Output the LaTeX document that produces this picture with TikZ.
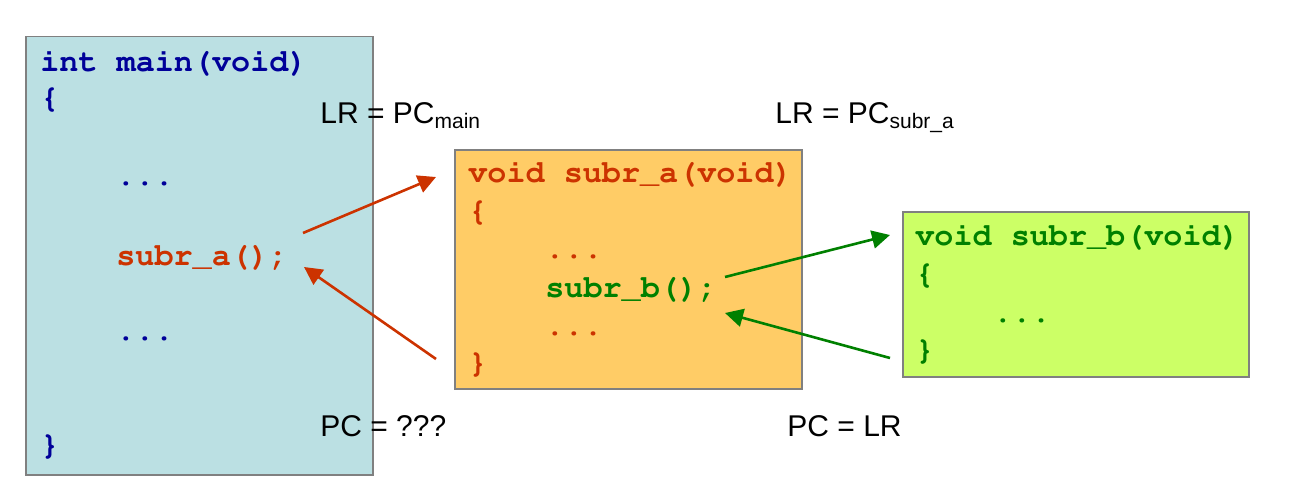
\documentclass[tikz,border=0pt]{standalone}
\usepackage[T1,TU]{fontenc}
\usepackage{fontspec}
\setmainfont{Liberation Sans}
\setmonofont{Liberation Mono}
\usetikzlibrary{arrows.meta, positioning}
\definecolor{mainbg}{HTML}{BBE0E3}
\definecolor{subabg}{HTML}{FFCC66}
\definecolor{subbbg}{HTML}{CCFF66}
\definecolor{mainfg}{HTML}{000099}
\definecolor{subafg}{HTML}{CC3300}
\definecolor{subbfg}{HTML}{008000}
\newcommand{\codefont}{\fontencoding{T1}\fontfamily{pcr}\fontseries{b}\fontshape{n}\fontsize{15.9}{18}\selectfont}
\tikzstyle{codebox}=[draw=gray, line width=0.75pt, anchor=north west, inner sep=0pt]
\tikzstyle{code}=[inner sep=0pt, anchor=base west, font=\codefont]
\tikzstyle{reg}=[inner sep=0pt, anchor=base west, font=\fontsize{15}{18}\selectfont]
\tikzstyle{jump}=[line width=1.3pt, -{Triangle[length=9pt, width=9pt]}]

\begin{document}
\begin{tikzpicture}[x=0.5pt, y=-0.5pt]
\useasboundingbox (0,0) rectangle (1294,492);
% boxes
\node[codebox, fill=mainbg, minimum width=173.5pt, minimum height=219pt] (mainbox) at (25,36) {};
\node[codebox, fill=subabg, minimum width=173.5pt, minimum height=119.5pt] (subabox) at (454,149) {};
\node[codebox, fill=subbbg, minimum width=173pt, minimum height=82.5pt] (subbbox) at (902,211) {};
%
\node[code, mainfg] (mainhead) at (40,72) {int main(void)};
\node[code, mainfg] (mainopen) at (40,107) {\{};
\node[code, mainfg] (maindots1) at (116,185) {...};
\node[code, subafg] (maincall) at (116,265) {subr\_a();};
\node[code, mainfg] (maindots2) at (116,340) {...};
\node[code, mainfg] (mainclose) at (40,454) {\}};
%
\node[code, subafg] (subahead) at (468,182) {void subr\_a(void)};
\node[code, subafg] (subaopen) at (468,220) {\{};
\node[code, subafg] (subadots1) at (545,258) {...};
\node[code, subbfg] (subacall) at (545,297) {subr\_b();};
\node[code, subafg] (subadots2) at (545,335) {...};
\node[code, subafg] (subaclose) at (468,372) {\}};
%
\node[code, subbfg] (subbhead) at (915,245) {void subr\_b(void)};
\node[code, subbfg] (subbopen) at (915,283) {\{};
\node[code, subbfg] (subbdots) at (993,322) {...};
\node[code, subbfg] (subbclose) at (915,359) {\}};
%
\node[reg] (lrmain) at (320,123) {LR = PC\textsubscript{main}};
\node[reg] (lrsuba) at (775,123) {LR = PC\textsubscript{subr\_a}};
\node[reg] (pcmain) at (320,436) {PC = ???};
\node[reg] (pcsuba) at (787,436) {PC = LR};
%
\coordinate (callA) at (303,233);
\coordinate (entryA) at (436,177);
\coordinate (retA) at (436,359);
\coordinate (backA) at (304,267);
\coordinate (callB) at (725,277);
\coordinate (entryB) at (890,235);
\coordinate (retB) at (890,358);
\coordinate (backB) at (725,313);
\draw[jump, subafg] (callA) -- (entryA);
\draw[jump, subafg] (retA) -- (backA);
\draw[jump, subbfg] (callB) -- (entryB);
\draw[jump, subbfg] (retB) -- (backB);
\end{tikzpicture}
\end{document}
